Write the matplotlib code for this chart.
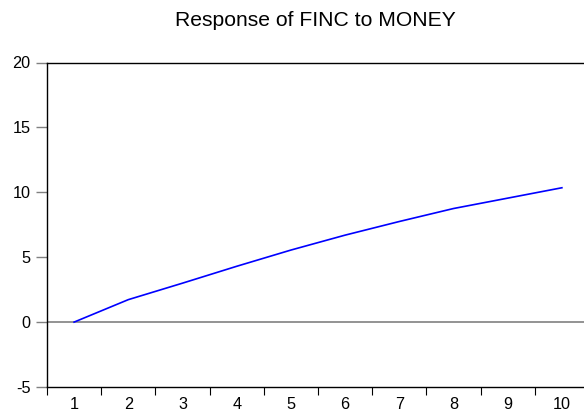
import matplotlib
matplotlib.use("Agg")
import matplotlib.pyplot as plt
import numpy as np

periods = [1, 2, 3, 4, 5, 6, 7, 8, 9, 10]
response = [0.0, 1.73, 3.0, 4.3, 5.55, 6.7, 7.75, 8.75, 9.55, 10.35]
yticks = [-5, 0, 5, 10, 15, 20]
title = "Response of FINC to MONEY"

plt.rcParams['font.family'] = ['Liberation Sans', 'DejaVu Sans']

fig = plt.figure(figsize=(5.84, 4.18), dpi=100)
ax = fig.add_axes([47/584, 31/418, 542/584, 324.5/418])

ax.plot(periods, response, color='#0000ff', lw=1.2, zorder=3)
ax.axhline(0, color='#808080', lw=1.2, zorder=2)

ax.set_xlim(0.5, 10.5)
ax.set_ylim(-5, 20)
ax.set_yticks(yticks)
ax.set_yticklabels([str(v) for v in yticks], fontsize=11.7)
ax.set_xticks(periods)
ax.set_xticklabels([str(p) for p in periods], fontsize=11.7)
ax.set_xticks(np.arange(0.5, 11, 1), minor=True)
ax.tick_params(axis='x', which='major', length=0, pad=7)
ax.tick_params(axis='x', which='minor', length=6, width=0.8, color='black', direction='out')
ax.tick_params(axis='y', which='major', length=8, width=1.0, color='#808080', direction='out', pad=4)

for s in ['left', 'top', 'bottom']:
    ax.spines[s].set_color('black')
    ax.spines[s].set_linewidth(1.0)
ax.spines['right'].set_visible(False)

fig.text(315/584, 1 - 21/418, title, ha='center', va='center', fontsize=15.2)

fig.savefig('out.png', dpi=100)
